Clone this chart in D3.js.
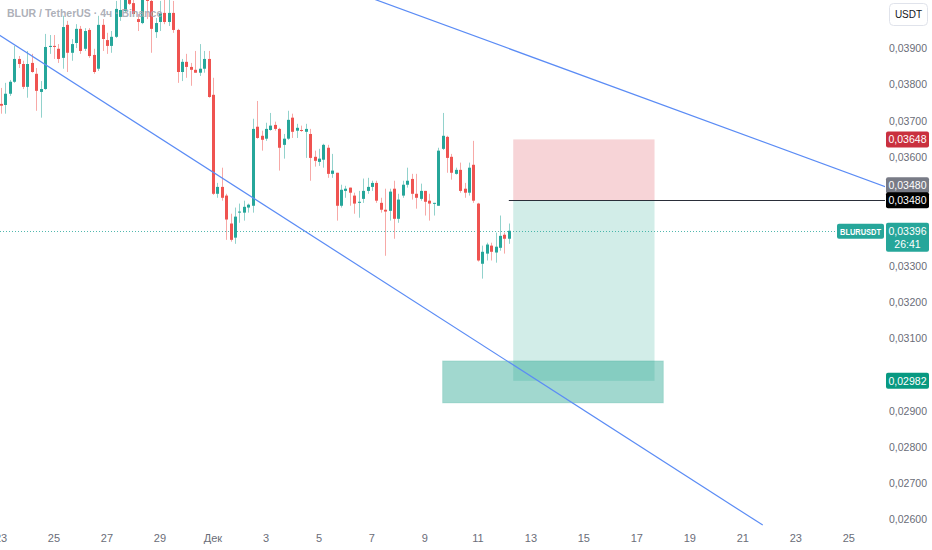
<!DOCTYPE html>
<html>
<head>
<meta charset="utf-8">
<script src="https://cdn.jsdelivr.net/npm/d3@7"></script>
<style>
  body { margin: 0; background: #fff; }
  svg { display: block; font-family: "Liberation Sans", Arial, sans-serif; }
</style>
</head>
<body>
<svg id="chart" width="932" height="550"></svg>
<script>
// BLUR / USDT, 4h candles, first one Nov 23 00:00 (UTC), 6 per row = 1 day
var firstCandle = Date.UTC(2024, 10, 23, 0);
var candleHours = 4;

var opens = [
  0.03746, 0.03743, 0.03774, 0.03807, 0.03870, 0.03856,
  0.03793, 0.03859, 0.03829, 0.03779, 0.03787, 0.03903,
  0.03906, 0.03898, 0.03873, 0.03964, 0.03887, 0.03914,
  0.03953, 0.03898, 0.03950, 0.03881, 0.03843, 0.03964,
  0.03922, 0.03906, 0.03931, 0.03986, 0.04002, 0.04035,
  0.04024, 0.03980, 0.03969, 0.04052, 0.04030, 0.03944,
  0.03972, 0.03997, 0.03972, 0.03997, 0.03950, 0.03834,
  0.03862, 0.03848, 0.03840, 0.03832, 0.03843, 0.03870,
  0.03771, 0.03498, 0.03517, 0.03493, 0.03416, 0.03377,
  0.03446, 0.03446, 0.03460, 0.03465, 0.03683, 0.03658,
  0.03650, 0.03674, 0.03688, 0.03677, 0.03633, 0.03650,
  0.03708, 0.03672, 0.03674, 0.03669, 0.03663, 0.03600,
  0.03586, 0.03592, 0.03625, 0.03553, 0.03556, 0.03465,
  0.03506, 0.03515, 0.03493, 0.03473, 0.03484, 0.03506,
  0.03517, 0.03528, 0.03473, 0.03454, 0.03451, 0.03512,
  0.03429, 0.03493, 0.03523, 0.03539, 0.03498, 0.03484,
  0.03506, 0.03479, 0.03471, 0.03465, 0.03622, 0.03655,
  0.03600, 0.03553, 0.03564, 0.03512, 0.03501, 0.03578,
  0.03471, 0.03305, 0.03333, 0.03355, 0.03336, 0.03349,
  0.03385, 0.03374
];
var highs = [
  0.03790, 0.03804, 0.03812, 0.03906, 0.03878, 0.03865,
  0.03892, 0.03884, 0.03845, 0.03809, 0.03939, 0.03936,
  0.03936, 0.03911, 0.03989, 0.03975, 0.03925, 0.03966,
  0.03961, 0.03955, 0.03955, 0.03898, 0.03989, 0.03980,
  0.03942, 0.03947, 0.04030, 0.04044, 0.04071, 0.04057,
  0.04044, 0.03994, 0.04057, 0.04079, 0.04044, 0.03983,
  0.04030, 0.04035, 0.04035, 0.04030, 0.03953, 0.03870,
  0.03884, 0.03859, 0.03892, 0.03911, 0.03892, 0.03892,
  0.03818, 0.03528, 0.03570, 0.03498, 0.03443, 0.03460,
  0.03471, 0.03479, 0.03471, 0.03705, 0.03754, 0.03672,
  0.03694, 0.03721, 0.03697, 0.03680, 0.03663, 0.03727,
  0.03719, 0.03691, 0.03686, 0.03691, 0.03677, 0.03617,
  0.03622, 0.03636, 0.03633, 0.03608, 0.03556, 0.03523,
  0.03520, 0.03515, 0.03501, 0.03506, 0.03540, 0.03542,
  0.03534, 0.03534, 0.03487, 0.03512, 0.03512, 0.03534,
  0.03498, 0.03534, 0.03570, 0.03553, 0.03553, 0.03526,
  0.03506, 0.03498, 0.03473, 0.03625, 0.03721, 0.03658,
  0.03608, 0.03570, 0.03584, 0.03528, 0.03584, 0.03644,
  0.03473, 0.03355, 0.03363, 0.03363, 0.03391, 0.03438,
  0.03391, 0.03416
];
var lows = [
  0.03719, 0.03719, 0.03768, 0.03804, 0.03845, 0.03787,
  0.03763, 0.03832, 0.03727, 0.03708, 0.03785, 0.03884,
  0.03870, 0.03859, 0.03843, 0.03834, 0.03865, 0.03900,
  0.03884, 0.03892, 0.03873, 0.03829, 0.03837, 0.03892,
  0.03884, 0.03887, 0.03928, 0.03975, 0.03997, 0.04019,
  0.04002, 0.03947, 0.03966, 0.03980, 0.03887, 0.03928,
  0.03947, 0.03966, 0.03961, 0.03942, 0.03804, 0.03809,
  0.03818, 0.03796, 0.03832, 0.03823, 0.03832, 0.03763,
  0.03495, 0.03487, 0.03479, 0.03371, 0.03366, 0.03360,
  0.03418, 0.03424, 0.03446, 0.03446, 0.03650, 0.03617,
  0.03644, 0.03672, 0.03672, 0.03562, 0.03595, 0.03647,
  0.03652, 0.03652, 0.03669, 0.03597, 0.03534, 0.03573,
  0.03575, 0.03570, 0.03542, 0.03542, 0.03424, 0.03460,
  0.03487, 0.03465, 0.03443, 0.03432, 0.03473, 0.03498,
  0.03506, 0.03473, 0.03446, 0.03327, 0.03424, 0.03374,
  0.03418, 0.03487, 0.03515, 0.03482, 0.03457, 0.03479,
  0.03438, 0.03424, 0.03438, 0.03465, 0.03619, 0.03556,
  0.03537, 0.03551, 0.03501, 0.03487, 0.03493, 0.03473,
  0.03311, 0.03264, 0.03314, 0.03314, 0.03308, 0.03341,
  0.03333, 0.03360
];
var closes = [
  0.03741, 0.03774, 0.03807, 0.03870, 0.03856, 0.03793,
  0.03856, 0.03834, 0.03782, 0.03787, 0.03903, 0.03906,
  0.03903, 0.03870, 0.03958, 0.03887, 0.03911, 0.03953,
  0.03892, 0.03947, 0.03878, 0.03834, 0.03964, 0.03925,
  0.03906, 0.03931, 0.04008, 0.04005, 0.04044, 0.04022,
  0.03994, 0.03972, 0.04035, 0.04030, 0.03953, 0.03969,
  0.03997, 0.03972, 0.03997, 0.03950, 0.03834, 0.03862,
  0.03848, 0.03840, 0.03832, 0.03843, 0.03870, 0.03765,
  0.03498, 0.03517, 0.03487, 0.03427, 0.03371, 0.03435,
  0.03449, 0.03462, 0.03468, 0.03677, 0.03652, 0.03647,
  0.03677, 0.03686, 0.03677, 0.03625, 0.03650, 0.03702,
  0.03669, 0.03680, 0.03672, 0.03677, 0.03597, 0.03589,
  0.03595, 0.03633, 0.03553, 0.03562, 0.03465, 0.03509,
  0.03512, 0.03501, 0.03471, 0.03476, 0.03506, 0.03517,
  0.03528, 0.03479, 0.03454, 0.03449, 0.03504, 0.03429,
  0.03482, 0.03523, 0.03534, 0.03498, 0.03487, 0.03506,
  0.03476, 0.03471, 0.03473, 0.03617, 0.03658, 0.03597,
  0.03556, 0.03564, 0.03506, 0.03501, 0.03570, 0.03479,
  0.03314, 0.03338, 0.03358, 0.03338, 0.03352, 0.03382,
  0.03374, 0.03396
];

// right scale ticks (0,030 / 0,034 / 0,035 sit under the price labels)
var priceTicks = [0.026, 0.027, 0.028, 0.029, 0.031, 0.032, 0.033, 0.036, 0.037, 0.038, 0.039];

// drawings
var lastPrice = 0.03396;
var timerText = "26:41";
var entryPrice = 0.03480;
var stopPrice = 0.03648;
var targetPrice = 0.02982;
var positionStart = Date.UTC(2024, 11, 12, 8);
var positionEnd = Date.UTC(2024, 11, 17, 16);
var entryLineStart = Date.UTC(2024, 11, 12, 4);
var zoneTop = 0.03037;
var zoneBottom = 0.02921;
var zoneStart = Date.UTC(2024, 11, 9, 16);
var zoneEnd = Date.UTC(2024, 11, 18, 0);
var lowerTrend = [[Date.UTC(2024, 10, 22), 0.03980], [Date.UTC(2024, 11, 21, 18), 0.02584]];
var upperTrend = [[Date.UTC(2024, 11, 6), 0.04064], [Date.UTC(2024, 11, 27), 0.03501]];
var trendLabelPrice = 0.03480;

var plotWidth = 885;
var plotHeight = 527;

var upColor = "#26a69a";
var downColor = "#ef5350";
var fmt = d3.formatLocale({decimal: ",", thousands: " ", grouping: [3], currency: ["", ""]}).format(".5f");

var svg = d3.select("#chart");

var x = d3.scaleUtc()
  .domain([Date.UTC(2024, 10, 23), Date.UTC(2024, 11, 26, 9, 40)])
  .range([1, plotWidth + 1]);

var y = d3.scaleLinear()
  .domain([0.025788, 0.040326])
  .range([plotHeight, 0]);

var candles = opens.map(function(o, i) {
  return {
    t: firstCandle + i * candleHours * 3600 * 1000,
    o: o, h: highs[i], l: lows[i], c: closes[i]
  };
});

svg.append("defs").append("clipPath").attr("id", "plotClip")
  .append("rect").attr("x", 0).attr("y", 0).attr("width", plotWidth).attr("height", plotHeight);

var dayTicks = x.ticks(d3.utcDay.every(2));

var plot = svg.append("g").attr("clip-path", "url(#plotClip)");

// zone + long position boxes
plot.append("rect")
  .attr("x", x(positionStart)).attr("width", x(positionEnd) - x(positionStart))
  .attr("y", y(stopPrice)).attr("height", y(entryPrice) - y(stopPrice))
  .attr("fill", "#e0606b").attr("fill-opacity", 0.27);
plot.append("rect")
  .attr("x", x(positionStart)).attr("width", x(positionEnd) - x(positionStart))
  .attr("y", y(entryPrice)).attr("height", y(targetPrice) - y(entryPrice))
  .attr("fill", "#089981").attr("fill-opacity", 0.18);
plot.append("rect")
  .attr("x", x(zoneStart)).attr("width", x(zoneEnd) - x(zoneStart))
  .attr("y", y(zoneTop)).attr("height", y(zoneBottom) - y(zoneTop))
  .attr("fill", "#089981").attr("fill-opacity", 0.38)
  .attr("stroke", "#089981").attr("stroke-opacity", 0.15);

// current price dotted line
plot.append("line")
  .attr("x1", 0).attr("x2", plotWidth)
  .attr("y1", Math.round(y(lastPrice)) + 0.5).attr("y2", Math.round(y(lastPrice)) + 0.5)
  .attr("stroke", upColor).attr("stroke-opacity", 0.8).attr("stroke-dasharray", "1,2");

// candles
var cw = 3;
var g = plot.selectAll("g.candle").data(candles).enter().append("g");
g.append("line")
  .attr("x1", d => Math.round(x(d.t)) + 0.5).attr("x2", d => Math.round(x(d.t)) + 0.5)
  .attr("y1", d => y(d.h)).attr("y2", d => y(d.l))
  .attr("stroke", d => d.c >= d.o ? upColor : downColor)
  .attr("stroke-opacity", 0.5);
g.append("rect")
  .attr("x", d => Math.round(x(d.t)) - 1)
  .attr("width", cw)
  .attr("y", d => y(Math.max(d.o, d.c)))
  .attr("height", d => Math.max(1, Math.abs(y(d.o) - y(d.c))))
  .attr("fill", d => d.c >= d.o ? upColor : downColor);

// entry line
plot.append("line")
  .attr("x1", x(entryLineStart)).attr("x2", plotWidth)
  .attr("y1", Math.round(y(entryPrice)) + 0.5).attr("y2", Math.round(y(entryPrice)) + 0.5)
  .attr("stroke", "#2a2e39").attr("stroke-width", 1);

// trend lines
var trendLine = d3.line().x(d => x(d[0])).y(d => y(d[1]));
plot.append("path").datum(lowerTrend).attr("d", trendLine)
  .attr("fill", "none").attr("stroke", "#5b8cf5").attr("stroke-width", 1.2);
plot.append("path").datum(upperTrend).attr("d", trendLine)
  .attr("fill", "none").attr("stroke", "#5b8cf5").attr("stroke-width", 1.2);

// header
svg.append("text")
  .attr("x", 7).attr("y", 17)
  .attr("font-size", 10.5).attr("font-weight", "bold").attr("fill", "#a3a6af")
  .attr("fill-opacity", 0.9)
  .text("BLUR / TetherUS · 4ч · Binance");

// time axis
svg.append("g").selectAll("text").data(dayTicks).enter().append("text")
  .attr("x", d => x(d)).attr("y", 542)
  .attr("text-anchor", "middle")
  .attr("font-size", 11).attr("fill", "#6a6d78")
  .text(d => d.getUTCDate() === 1 ? "Дек" : d.getUTCDate());

// price axis
svg.append("g").selectAll("text").data(priceTicks).enter().append("text")
  .attr("x", 908).attr("y", d => y(d) + 4)
  .attr("text-anchor", "middle")
  .attr("font-size", 10.5).attr("fill", "#6a6d78")
  .text(d => fmt(d));

// USDT button
svg.append("rect")
  .attr("x", 889.5).attr("y", 3.5).attr("width", 38).attr("height", 22).attr("rx", 4)
  .attr("fill", "#fff").attr("stroke", "#e0e3eb");
svg.append("text")
  .attr("x", 908.5).attr("y", 18).attr("text-anchor", "middle")
  .attr("font-size", 10).attr("fill", "#131722")
  .text("USDT");

// price labels on the scale
function priceLabel(cy, bg, txt) {
  svg.append("rect")
    .attr("x", 886).attr("y", cy - 8).attr("width", 43).attr("height", 16).attr("rx", 2)
    .attr("fill", bg);
  svg.append("text")
    .attr("x", 907.5).attr("y", cy + 4).attr("text-anchor", "middle")
    .attr("font-size", 10.5).attr("fill", "#fff")
    .text(txt);
}
priceLabel(y(stopPrice), "#c9303e", fmt(stopPrice));
priceLabel(y(entryPrice) - 15, "#787b86", fmt(trendLabelPrice));
priceLabel(y(entryPrice), "#000", fmt(entryPrice));
priceLabel(y(targetPrice), "#089981", fmt(targetPrice));

// last price label with countdown
var ly = y(lastPrice);
svg.append("rect")
  .attr("x", 886).attr("y", ly - 8).attr("width", 43).attr("height", 29).attr("rx", 2)
  .attr("fill", upColor);
svg.append("text")
  .attr("x", 907.5).attr("y", ly + 4).attr("text-anchor", "middle")
  .attr("font-size", 10.5).attr("fill", "#fff").text(fmt(lastPrice));
svg.append("text")
  .attr("x", 907.5).attr("y", ly + 17).attr("text-anchor", "middle")
  .attr("font-size", 10.5).attr("fill", "#fff").text(timerText);
svg.append("rect")
  .attr("x", 837).attr("y", ly - 7).attr("width", 47).attr("height", 15).attr("rx", 2)
  .attr("fill", upColor);
svg.append("text")
  .attr("x", 860.5).attr("y", ly + 4).attr("text-anchor", "middle")
  .attr("font-size", 9).attr("font-weight", "bold").attr("fill", "#fff")
  .attr("textLength", 41).attr("lengthAdjust", "spacingAndGlyphs")
  .text("BLURUSDT");
</script>
</body>
</html>
